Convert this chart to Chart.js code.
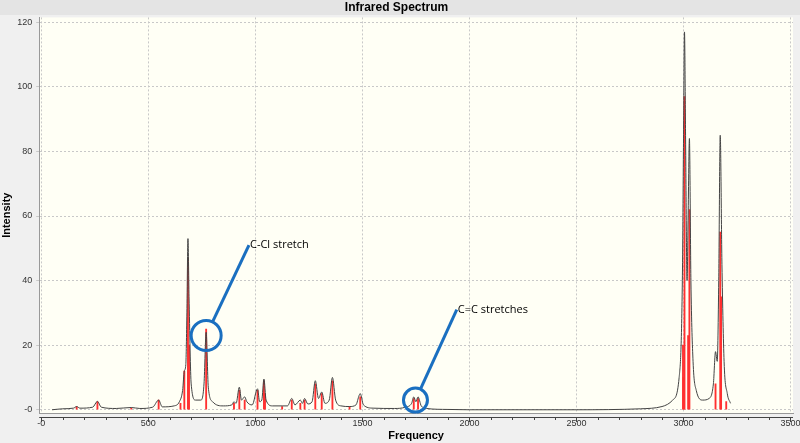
<!DOCTYPE html>
<html><head><meta charset="utf-8">
<script src="https://cdn.jsdelivr.net/npm/chart.js@4/dist/chart.umd.min.js"></script>
<style>html,body{margin:0;padding:0;background:#f0f0f0;}#w{width:800px;height:443px;}</style>
</head><body><div id="w"><canvas id="c"></canvas></div>
<script>
const curveX=[50,100,150,165,180,240,262,280,350,420,460,520,548,565,620,645,660,668,675,680,685,690,700,720,745,760,770,780,800,850,890,900,910,925,935,950,960,985,1010,1020,1030,1040,1050,1080,1125,1150,1170,1185,1210,1220,1230,1245,1265,1280,1295,1310,1325,1345,1360,1375,1400,1440,1470,1485,1490,1505,1550,1650,1700,1730,1740,1750,1760,1775,1800,1900,2000,2500,2800,2900,2950,2980,2995,3000,3005,3010,3017,3022,3028,3035,3045,3060,3090,3120,3140,3150,3158,3165,3172,3180,3190,3205,3220];
const curveY=[0,0.3,0.5,1,0.5,0.8,2.6,0.8,0.4,0.7,0.4,0.8,3,0.9,1.2,2.5,6,12,14,30,53,35,8,3,3,8,24,7,2.5,1.2,1.5,2.5,2,7,3,4,2.5,1.5,6.5,2.5,3,9.5,3,1.2,1.2,1.2,3.5,1.5,3,2,3.5,1.8,2.5,9,3.5,5.5,2,3,10,3,1.2,1,1.5,4.5,5,1.5,0.5,0.4,0.8,2,4,2.5,4,1.2,0.4,0.1,0,0,0.3,1,3,10,40,80,117,85,40,60,84,40,15,6,3,3.5,8,18,15,40,85,45,15,5,2];
const stickX=[165,262,420,548,650,668,685,690,770,900,925,950,1010,1040,1045,1125,1170,1210,1230,1280,1310,1360,1440,1490,1740,1760,2998,3000,3005,3022,3028,3150,3172,3176,3200];
const stickY=[1,2.5,0.5,3,2,12,47,20,25,2,6,3,6,9,5,1,3,2,3,8,5,9,1,4,3.5,3.5,20,10,97,23,62,8,55,35,2.5];
const noteText=["C-Cl stretch","C=C stretches"];
const noteCenterX=[770,1748];const noteCenterY=[23,3];
const noteLabelX=[970,1941];const noteLabelY=[51,31];
const xTicks=[0,500,1000,1500,2000,2500,3000,3500];
const yTicks=[0,20,40,60,80,100,120];

const notes={id:'notes',afterDatasetsDraw(ch){
  const c=ch.ctx,xs=ch.scales.x,ys=ch.scales.y,a=ch.chartArea;
  c.save();
  c.strokeStyle='#444';c.lineWidth=1;
  c.beginPath();c.moveTo(a.left,a.bottom+4.5);c.lineTo(a.right,a.bottom+4.5);c.stroke();
  for(let v=0;v<=3500;v+=100){const px=Math.round(xs.getPixelForValue(v))+0.5;c.beginPath();c.moveTo(px,a.bottom+4);c.lineTo(px,a.bottom+(v%500===0?9:7));c.stroke();}
  for(let i=0;i<noteText.length;i++){
    const cx=xs.getPixelForValue(noteCenterX[i]),cy=ys.getPixelForValue(noteCenterY[i]);
    const lx=xs.getPixelForValue(noteLabelX[i]),ly=ys.getPixelForValue(noteLabelY[i]);
    const r=i===0?15:12;
    c.strokeStyle='#1a6fc0';c.lineWidth=3;
    c.beginPath();c.arc(cx,cy,r,0,Math.PI*2);c.stroke();
    const ang=Math.atan2(ly-cy,lx-cx);
    c.beginPath();c.moveTo(cx+r*Math.cos(ang),cy+r*Math.sin(ang));c.lineTo(lx,ly);c.stroke();
    c.fillStyle='#000';c.font='11px "Open Sans"';c.textBaseline='middle';
    c.fillText(noteText[i],lx+1,ly);
  }
  c.restore();
},beforeDraw(ch){
  const c=ch.ctx,a=ch.chartArea;c.save();
  c.fillStyle='#fffff5';c.fillRect(a.left,a.top,a.right-a.left,a.bottom-a.top);
  c.fillStyle='#e4e4e4';c.fillRect(0,0,800,15);
  c.restore();
}};

new Chart(document.getElementById('c'),{
  type:'bar',
  data:{datasets:[
    {type:'line',data:curveX.map((x,i)=>({x,y:curveY[i]})),borderColor:'#444',borderWidth:1,pointRadius:0,cubicInterpolationMode:'monotone',order:0},
    {type:'bar',data:stickX.map((x,i)=>({x,y:stickY[i]})),backgroundColor:'#ff3030',barThickness:1.2,order:1}
  ]},
  options:{responsive:true,maintainAspectRatio:false,animation:false,
    layout:{padding:{left:0,right:7,top:0,bottom:0}},
    plugins:{legend:{display:false},tooltip:{enabled:false},
      title:{display:true,text:'Infrared Spectrum',color:'#000',font:{family:'Liberation Sans',size:12,weight:'bold'},padding:{top:0,bottom:3}}},
    scales:{
      x:{type:'linear',offset:false,min:-10,max:3512,afterBuildTicks:s=>{s.ticks=xTicks.map(v=>({value:v}));},
        afterFit:s=>{s.paddingRight=0;},
        ticks:{callback:v=>v===0?'-0':v,color:'#333',font:{family:'Liberation Sans',size:9},padding:5,maxRotation:0,
          align:'center'},
        grid:{color:'#c8c8c8',offset:false,tickLength:0,drawTicks:false},border:{display:true,color:'#999',dash:[2,2]},
        title:{display:true,text:'Frequency',color:'#000',font:{family:'Liberation Sans',size:11,weight:'bold'},padding:{top:-4,bottom:0}}},
      y:{min:-1,max:121.5,afterBuildTicks:s=>{s.ticks=yTicks.map(v=>({value:v}));},
        ticks:{callback:v=>v===0?'-0':v,color:'#333',font:{family:'Liberation Sans',size:9},padding:4},
        grid:{color:'#c8c8c8',tickLength:3,drawTicks:true},border:{color:'#999',dash:[2,2]},
        title:{display:true,text:'Intensity',color:'#000',font:{family:'Liberation Sans',size:11,weight:'bold'},padding:0}}
    }
  },
  plugins:[notes,{id:'clipfix',afterDraw(ch){}}]
});
</script></body></html>
